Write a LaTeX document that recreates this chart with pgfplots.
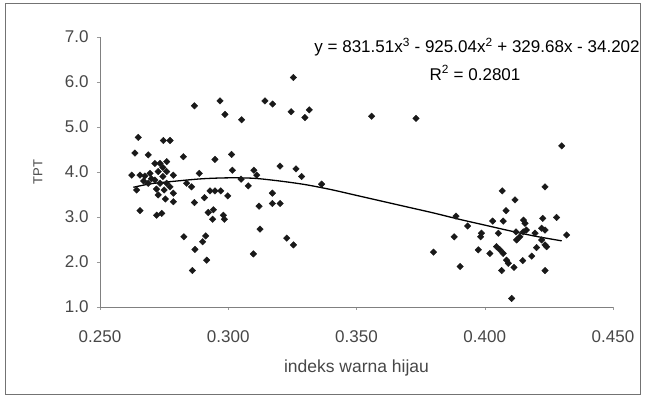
\documentclass[border=0pt]{standalone}
\usepackage{pgfplots}
\pgfplotsset{compat=1.18}
\usepackage{fontspec}
\setmainfont{Liberation Sans}
\begin{document}
\begin{tikzpicture}
\path[use as bounding box] (-100pt,-96pt) rectangle (545pt,307pt);
\draw[black!55, line width=1pt] (-94pt,-88pt) rectangle (540pt,303pt);
\begin{axis}[
  scale only axis, width=513pt, height=270pt,
  xmin=0.25, xmax=0.45, ymin=1, ymax=7,
  axis x line*=bottom, axis y line*=left,
  axis line style={black!50, line width=0.6pt},
  xtick={0.25,0.30,0.35,0.40,0.45},
  ytick={1,2,3,4,5,6,7},
  tick align=outside, major tick length=3pt,
  tick style={black!40},
  /pgf/number format/assume math mode=true,
  xticklabel={\pgfmathprintnumber[fixed,fixed zerofill,precision=3]{\tick}},
  yticklabel={\pgfmathprintnumber[fixed,fixed zerofill,precision=1]{\tick}},
  ticklabel style={font=\fontsize{17}{19}\selectfont, text=black!72},
  xticklabel style={yshift=-17pt},
  yticklabel style={xshift=-5pt},
  xlabel={indeks warna hijau},
  ylabel={TPT},
  every axis x label/.style={at={(axis description cs:0.5,-0.226)}, anchor=center, font=\fontsize{17.5}{19}\selectfont, text=black!72},
  every axis y label/.style={at={(axis description cs:-0.121,0.5)}, rotate=90, anchor=center, font=\fontsize{13}{15}\selectfont, text=black!72},
  clip=false,
]
\addplot[only marks, mark=square*, mark size=2.3pt, mark options={rotate=45, fill=black!90, draw=black!90}] table {
x y
0.2649 4.77
0.2636 4.42
0.2688 4.38
0.2747 4.70
0.2773 4.70
0.2624 3.93
0.2656 3.93
0.2675 3.91
0.2643 3.60
0.2656 3.14
0.2721 3.04
0.2741 3.08
0.2714 4.19
0.2734 4.19
0.2760 4.23
0.2727 4.01
0.2760 4.01
0.2786 3.93
0.2714 3.82
0.2734 3.75
0.2760 3.75
0.2773 3.67
0.2786 3.53
0.2786 3.34
0.2727 3.49
0.2688 3.75
0.2695 3.97
0.2720 3.62
0.2750 3.60
0.2700 3.85
0.2745 3.90
0.2670 3.80
0.2755 3.40
0.2745 4.10
0.2825 4.34
0.2838 3.75
0.2857 3.67
0.2868 5.47
0.2868 3.32
0.2887 3.97
0.2827 2.56
0.2870 2.28
0.2900 2.45
0.2912 2.58
0.2860 1.81
0.2916 2.04
0.2907 3.43
0.2922 3.10
0.2942 3.16
0.2939 2.95
0.2948 4.28
0.2929 3.58
0.2948 3.58
0.2971 3.58
0.2981 3.04
0.2985 2.95
0.2998 3.47
0.2968 5.58
0.2987 5.28
0.3013 4.39
0.3016 4.04
0.3052 5.16
0.3050 3.84
0.3078 3.69
0.3100 4.04
0.3111 3.93
0.3120 3.24
0.3124 2.73
0.3098 2.18
0.3143 5.58
0.3173 5.51
0.3172 3.53
0.3172 3.30
0.3202 3.30
0.3202 4.13
0.3228 2.53
0.3254 2.38
0.3245 5.34
0.3254 6.10
0.3264 4.07
0.3286 3.90
0.3299 5.21
0.3316 5.38
0.3364 3.73
0.3559 5.24
0.3732 5.19
0.4300 4.58
0.4235 3.67
0.4068 3.58
0.4118 3.38
0.4083 3.14
0.3888 3.02
0.3933 2.80
0.3881 2.56
0.3800 2.22
0.3904 1.90
0.3975 2.27
0.3984 2.56
0.4020 2.19
0.4031 2.91
0.4072 2.91
0.4053 2.64
0.4046 2.34
0.4059 2.27
0.4072 2.19
0.4085 2.04
0.4092 1.97
0.4066 1.81
0.4114 1.88
0.4148 2.03
0.4183 2.13
0.4105 1.19
0.4235 1.81
0.4122 2.67
0.4124 2.49
0.4137 2.56
0.4151 2.93
0.4157 2.86
0.4196 2.64
0.4226 2.97
0.4222 2.75
0.4235 2.71
0.4222 2.49
0.4235 2.38
0.4241 2.34
0.4202 2.32
0.4280 2.99
0.4319 2.60
0.3987 2.64
0.4150 2.67
0.4162 2.71
};
\addplot[black, line width=1.3pt, smooth] table {
x y
0.263 3.66
0.270 3.74
0.280 3.80
0.290 3.85
0.300 3.87
0.310 3.86
0.320 3.80
0.330 3.72
0.340 3.61
0.350 3.48
0.360 3.35
0.370 3.22
0.380 3.09
0.390 2.95
0.400 2.82
0.410 2.69
0.420 2.57
0.430 2.47
};
\node[font=\fontsize{17}{19}\selectfont] at (rel axis cs:0.735,0.963) {y = 831.51x\textsuperscript{3} - 925.04x\textsuperscript{2} + 329.68x - 34.202};
\node[font=\fontsize{17}{19}\selectfont] at (rel axis cs:0.731,0.867) {R\textsuperscript{2} = 0.2801};
\end{axis}
\end{tikzpicture}
\end{document}
